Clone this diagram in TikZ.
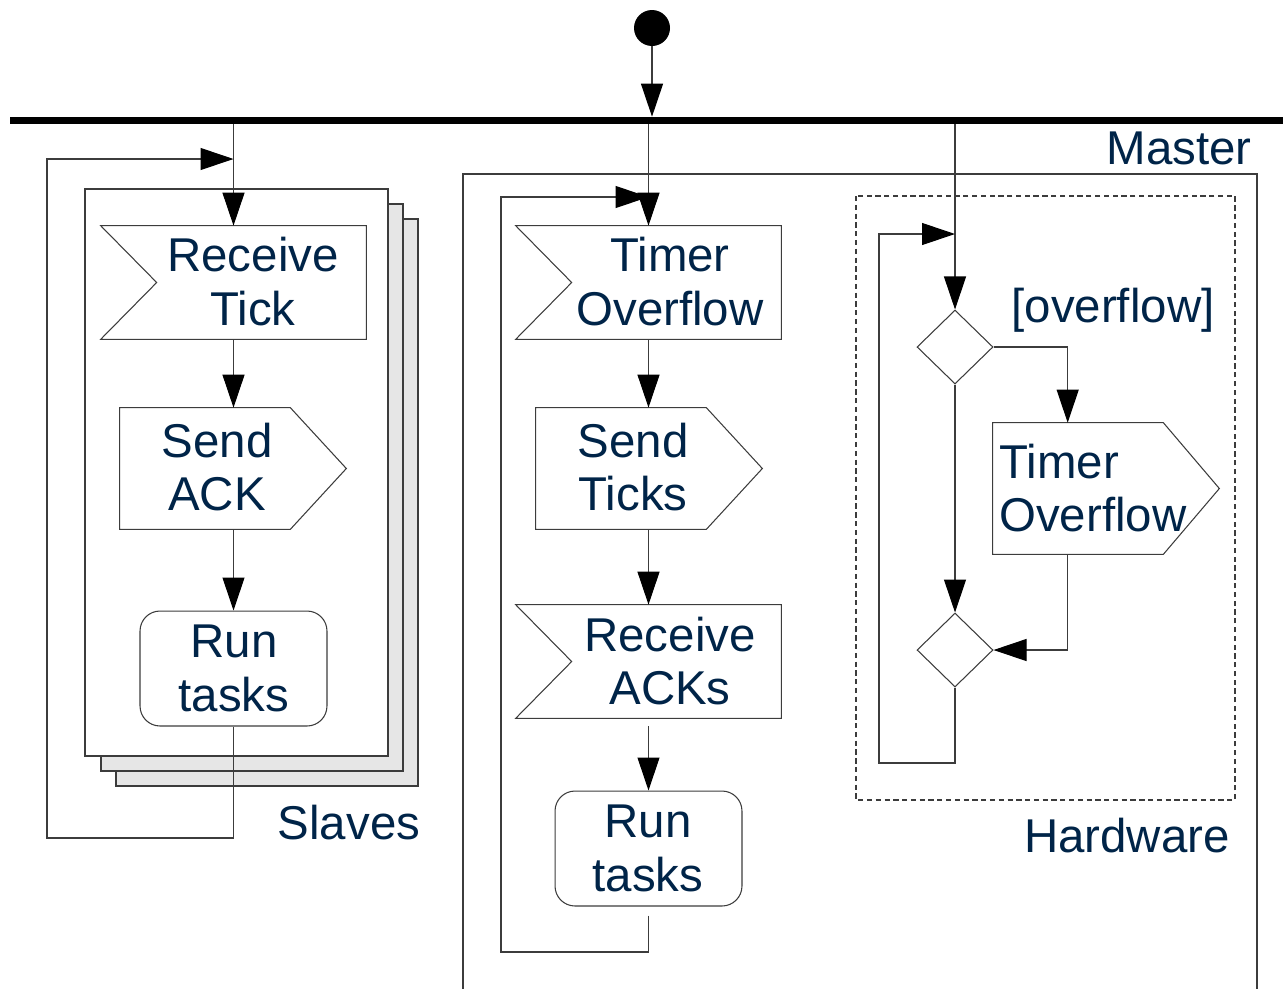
\documentclass[tikz,border=0pt]{standalone}
\usepackage{fontspec}
\setmainfont{Liberation Sans}
\usetikzlibrary{arrows.meta,shapes.geometric,calc}
\definecolor{ink}{RGB}{0,36,72}
\definecolor{wire}{RGB}{60,60,60}
\definecolor{sheet}{RGB}{230,230,230}
\begin{document}
\begin{tikzpicture}[x=0.02cm,y=-0.02cm,
  line/.style={draw=wire, line width=0.6pt},
  arr/.style={line, -{Triangle[length=0.66cm,width=0.44cm,color=black]}},
  slot/.style={draw=none, inner sep=0pt},
  txt/.style={text=ink, inner sep=0pt, align=center,
    font=\fontsize{27}{30.7}\selectfont},
  decision/.style={diamond, line, fill=white, inner sep=0pt,
    minimum width=1.52cm, minimum height=1.48cm},
  task/.style={line, rounded corners=0.4cm, inner sep=0pt,
    minimum width=3.74cm, minimum height=2.3cm}]
\useasboundingbox (0,0) rectangle (1283,988);

% initial node and fork bar
\node[circle, fill=black, inner sep=0pt, minimum size=0.72cm] (start) at (652,28) {};
\node[fill=black, inner sep=0pt, minimum width=25.46cm, minimum height=0.14cm] (bar) at (646.5,120.5) {};
\draw[arr] (start.south) -- (start.south |- bar.north);

% ---------- Slaves: stacked partitions ----------
\draw[line, fill=sheet] (116,219) rectangle (418,786);
\draw[line, fill=sheet] (101,204) rectangle (403,771);
\draw[line, fill=white] (85,189) rectangle (388,756);
\node[txt] (slaveslbl) at (349,823) {Slaves};

\node[slot, minimum width=5.3cm, minimum height=2.26cm] (rt) at (233.5,282.5) {};
\draw[line] (rt.north west) -- (rt.north east) -- (rt.south east) -- (rt.south west)
  -- ($(rt.west)+(56,0)$) -- cycle;
\node[txt] (rttxt) at (253,282) {Receive\\Tick};

\node[slot, minimum width=4.52cm, minimum height=2.42cm] (sa) at (233,468.5) {};
\draw[line] (sa.north west) -- ($(sa.north east)+(-56,0)$) -- (sa.east)
  -- ($(sa.south east)+(-56,0)$) -- (sa.south west) -- cycle;
\node[txt] (satxt) at (217,467) {Send\\ACK};

\node[task] (rn) at (233.5,668.5) {};
\node[txt] (rntxt) at (234,668) {Run\\tasks};

\draw[arr] (rt.north |- bar.south) -- (rt.north);
\draw[arr] (rt.south) -- (rt.south |- sa.north);
\draw[arr] (rt.south |- sa.south) -- (rn.north);
\coordinate (sleft) at (47,838);
\coordinate (sjoin) at (233.5,159);
\draw[arr] (rn.south) |- (sleft) |- (sjoin);

% ---------- Master partition ----------
\draw[line] (463,995) -- (463,174) -- (1257,174) -- (1257,995);
\node[txt, anchor=east] (masterlbl) at (1252,148) {Master};

\node[slot, minimum width=5.3cm, minimum height=2.26cm] (to) at (648.5,282.5) {};
\draw[line] (to.north west) -- (to.north east) -- (to.south east) -- (to.south west)
  -- ($(to.west)+(56,0)$) -- cycle;
\node[txt] (totxt) at (670,282) {Timer\\Overflow};

\node[slot, minimum width=4.52cm, minimum height=2.42cm] (st) at (649,468.5) {};
\draw[line] (st.north west) -- ($(st.north east)+(-56,0)$) -- (st.east)
  -- ($(st.south east)+(-56,0)$) -- (st.south west) -- cycle;
\node[txt] (sttxt) at (633,467) {Send\\Ticks};

\node[slot, minimum width=5.3cm, minimum height=2.26cm] (ra) at (648.5,661.5) {};
\draw[line] (ra.north west) -- (ra.north east) -- (ra.south east) -- (ra.south west)
  -- ($(ra.west)+(56,0)$) -- cycle;
\node[txt] (ratxt) at (670,661) {Receive\\ACKs};

\node[task] (rm) at (648.5,848.5) {};
\node[txt] (rmtxt) at (648,848) {Run\\tasks};

\draw[arr] (to.north |- bar.south) -- (to.north);
\draw[arr] (to.south) -- (to.south |- st.north);
\draw[arr] (to.south |- st.south) -- (ra.north);
\draw[arr, shorten <=0.16cm] (ra.south) -- (rm.north);
\coordinate (mleft) at (501,952);
\coordinate (mjoin) at (648.5,197);
\draw[arr, shorten <=0.18cm] (rm.south) |- (mleft) |- (mjoin);

% ---------- Hardware region ----------
\draw[line, dash pattern=on 3pt off 2pt] (856,196) rectangle (1235,800);
\node[txt] (hwlbl) at (1127,836) {Hardware};

\node[decision] (d1) at (955,347) {};
\node[decision] (d2) at (955,650) {};
\node[txt] (guard) at (1113,310) {[overflow]};

\node[slot, minimum width=4.52cm, minimum height=2.62cm] (ht) at (1106,488.5) {};
\draw[line] (ht.north west) -- ($(ht.north east)+(-56,0)$) -- (ht.east)
  -- ($(ht.south east)+(-56,0)$) -- (ht.south west) -- cycle;
\node[txt, align=left, anchor=west] (httxt) at (999,488) {Timer\\Overflow};

\draw[arr] (d1.north |- bar.south) -- (d1.north);
\draw[arr] (d1.south) -- (d2.north);
\draw[arr] (d1.east) -| ($(ht.north west)+(75,0)$);
\draw[arr] ($(ht.south west)+(75,0)$) |- (d2.east);
\coordinate (hleft) at (879,763);
\coordinate (hjoin) at (955,234);
\draw[arr] (d2.south) |- (hleft) |- (hjoin);
\end{tikzpicture}
\end{document}
